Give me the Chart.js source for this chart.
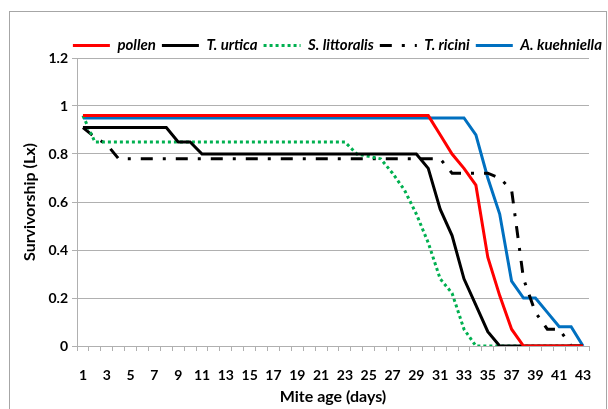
<!DOCTYPE html>
<html>
<head>
<meta charset="utf-8">
<script src="https://cdn.jsdelivr.net/npm/chart.js@4.4.1/dist/chart.umd.min.js"></script>
<style>
  html, body { margin: 0; padding: 0; background: #ffffff; }
  #wrap { width: 608px; height: 409px; }
</style>
</head>
<body>
<div id="wrap"><canvas id="survChart" width="608" height="409"></canvas></div>
<script>
// ---- data ----
const days = [1, 2, 3, 4, 5, 6, 7, 8, 9, 10, 11, 12, 13, 14, 15, 16, 17, 18, 19, 20, 21, 22,
              23, 24, 25, 26, 27, 28, 29, 30, 31, 32, 33, 34, 35, 36, 37, 38, 39, 40, 41, 42, 43];

const pollen = [0.96, 0.96, 0.96, 0.96, 0.96, 0.96, 0.96, 0.96, 0.96, 0.96, 0.96, 0.96, 0.96, 0.96, 0.96,
                0.96, 0.96, 0.96, 0.96, 0.96, 0.96, 0.96, 0.96, 0.96, 0.96, 0.96, 0.96, 0.96, 0.96, 0.96,
                0.88, 0.80, 0.74, 0.67, 0.37, 0.21, 0.07, 0, 0, 0, 0, 0, 0];

const urtica = [0.91, 0.91, 0.91, 0.91, 0.91, 0.91, 0.91, 0.91, 0.85, 0.85, 0.80, 0.80, 0.80, 0.80, 0.80,
                0.80, 0.80, 0.80, 0.80, 0.80, 0.80, 0.80, 0.80, 0.80, 0.80, 0.80, 0.80, 0.80, 0.80, 0.74,
                0.57, 0.46, 0.28, 0.17, 0.06, 0, 0, 0, 0, 0, 0, 0, 0];

const littoralis = [0.96, 0.85, 0.85, 0.85, 0.85, 0.85, 0.85, 0.85, 0.85, 0.85, 0.85, 0.85, 0.85, 0.85, 0.85,
                    0.85, 0.85, 0.85, 0.85, 0.85, 0.85, 0.85, 0.85, 0.80, 0.79, 0.78, 0.72, 0.65, 0.55, 0.43,
                    0.28, 0.22, 0.07, 0, 0, 0, 0, 0, 0, 0, 0, 0, 0];

const ricini = [0.91, 0.87, 0.84, 0.78, 0.78, 0.78, 0.78, 0.78, 0.78, 0.78, 0.78, 0.78, 0.78, 0.78, 0.78,
                0.78, 0.78, 0.78, 0.78, 0.78, 0.78, 0.78, 0.78, 0.78, 0.78, 0.78, 0.78, 0.78, 0.78, 0.78,
                0.78, 0.72, 0.72, 0.72, 0.72, 0.70, 0.65, 0.28, 0.14, 0.07, 0.07, 0, 0];

const kuehniella = [0.95, 0.95, 0.95, 0.95, 0.95, 0.95, 0.95, 0.95, 0.95, 0.95, 0.95, 0.95, 0.95, 0.95, 0.95,
                    0.95, 0.95, 0.95, 0.95, 0.95, 0.95, 0.95, 0.95, 0.95, 0.95, 0.95, 0.95, 0.95, 0.95, 0.95,
                    0.95, 0.95, 0.95, 0.88, 0.70, 0.55, 0.27, 0.20, 0.20, 0.14, 0.08, 0.08, 0];

const seriesNames = ['pollen', 'T. urtica', 'S. littoralis', 'T. ricini', 'A. kuehniella'];
const yTicks = [0, 0.2, 0.4, 0.6, 0.8, 1, 1.2];

const FONT = 'Lato, "Open Sans", sans-serif';
const GRID = '#b0b0b0';

// gray frame round the whole figure, and a tighter legend box
const framePlugin = {
    id: 'frame',
    beforeLayout(chart) {
        const lg = chart.legend;
        if (lg && !lg._fixed) {
            lg._fixed = true;
            const origFit = lg.fit;
            lg.fit = function () {
                origFit.call(this);
                this.height = 26;
            };
        }
    },
    beforeDraw(chart) {
        const ctx = chart.ctx;
        ctx.save();
        ctx.fillStyle = '#ffffff';
        ctx.fillRect(0, 0, chart.width, chart.height);
        ctx.strokeStyle = '#a6a6a6';
        ctx.lineWidth = 1;
        ctx.strokeRect(9.5, 11.5, 597, 420);
        ctx.restore();
    }
};

function lineSet(label, data, color, dash) {
    return {
        label: label,
        data: data,
        borderColor: color,
        backgroundColor: color,
        borderWidth: 3,
        borderDash: dash,
        borderCapStyle: 'butt',
        pointRadius: 0,
        tension: 0,
        fill: false
    };
}

const ctx = document.getElementById('survChart').getContext('2d');
new Chart(ctx, {
    type: 'line',
    data: {
        labels: days,
        datasets: [
            lineSet(seriesNames[0], pollen, '#ff0000', []),
            lineSet(seriesNames[1], urtica, '#000000', []),
            lineSet(seriesNames[2], littoralis, '#00b050', [3, 3]),
            lineSet(seriesNames[3], ricini, '#000000', [12, 10, 3, 10]),
            lineSet(seriesNames[4], kuehniella, '#0070c0', [])
        ]
    },
    plugins: [framePlugin],
    options: {
        responsive: false,
        animation: false,
        devicePixelRatio: 1,
        layout: { padding: { left: 9, right: 0, top: 32, bottom: 0 } },
        plugins: {
            tooltip: { enabled: false },
            legend: {
                position: 'top',
                align: 'end',
                labels: {
                    usePointStyle: true,
                    pointStyle: 'line',
                    pointStyleWidth: 37,
                    boxHeight: 15,
                    padding: 6,
                    color: '#000000',
                    font: { family: FONT, size: 15, weight: 'bold', style: 'italic' },
                    generateLabels: function (chart) {
                        const items = Chart.defaults.plugins.legend.labels.generateLabels(chart);
                        items.forEach(it => {
                            const ds = chart.data.datasets[it.datasetIndex];
                            it.lineDash = ds.borderDash;
                            it.lineWidth = 3;
                            it.strokeStyle = ds.borderColor;
                            it.lineCap = 'butt';
                        });
                        return items;
                    }
                }
            }
        },
        scales: {
            x: {
                type: 'category',
                offset: true,
                grid: { display: true, drawOnChartArea: false, drawTicks: true, tickLength: 5, color: GRID, offset: true },
                border: { display: true, color: GRID },
                ticks: {
                    autoSkip: false,
                    maxRotation: 0,
                    padding: 16,
                    color: '#000000',
                    font: { family: FONT, size: 14, weight: 'bold' },
                    callback: function (val, idx) { return idx % 2 === 0 ? days[idx] : ''; }
                },
                title: {
                    display: true,
                    text: 'Mite age (days)',
                    color: '#000000',
                    padding: { top: 0, bottom: 3 },
                    font: { family: FONT, size: 16, weight: 'bold' }
                },
                afterFit: function (s) { s.height = 63; }
            },
            y: {
                min: 0,
                max: 1.2,
                afterBuildTicks: function (s) { s.ticks = yTicks.map(v => ({ value: v })); },
                grid: { color: GRID, drawTicks: true, tickLength: 5 },
                border: { display: true, color: GRID },
                ticks: {
                    padding: 4,
                    color: '#000000',
                    font: { family: FONT, size: 14, weight: 'bold' },
                    callback: function (v) { return String(Math.round(v * 10) / 10); }
                },
                title: {
                    display: true,
                    text: 'Survivorship (Lx)',
                    color: '#000000',
                    padding: { top: 11, bottom: 0 },
                    font: { family: FONT, size: 16, weight: 'bold' }
                },
                afterFit: function (s) { s.width = 68; }
            },
            yPad: {
                position: 'right',
                display: true,
                min: 0,
                max: 1,
                grid: { display: false, drawOnChartArea: false },
                border: { display: false },
                ticks: { display: false },
                afterFit: function (s) { s.width = 19; }
            }
        }
    }
});
</script>
</body>
</html>
